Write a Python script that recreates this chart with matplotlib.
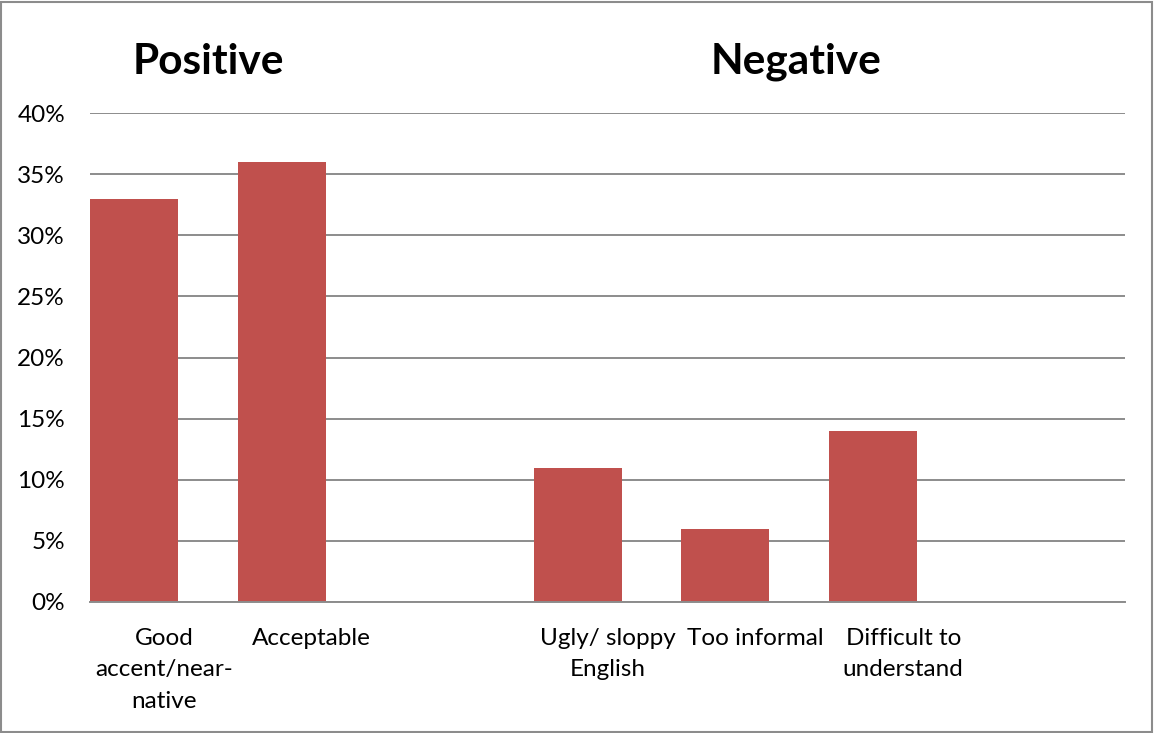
import matplotlib.pyplot as plt
from matplotlib.patches import Rectangle
from matplotlib.ticker import PercentFormatter

categories = ["Good\naccent/near-\nnative", "Acceptable", "",
              "Ugly/ sloppy\nEnglish", "Too informal", "Difficult to\nunderstand", ""]
values = [33, 36, None, 11, 6, 14, None]
y_ticks = [0, 5, 10, 15, 20, 25, 30, 35, 40]
group_titles = ["Positive", "Negative"]

plt.rcParams['font.family'] = ['Lato', 'DejaVu Sans']

W, H = 1154, 733
fig = plt.figure(figsize=(W / 100, H / 100), dpi=100)
ax = fig.add_axes([90 / W, (H - 602) / H, (1125 - 90) / W, (602 - 113) / H])

bar_w = 0.595
xs = list(range(len(categories)))
for x, v in zip(xs, values):
    if v is None:
        continue
    ax.bar(x - 0.5, v, width=bar_w, align='edge', color='#C0504D', zorder=3)

ax.set_xlim(-0.5, len(categories) - 0.5)
ax.set_ylim(0, 40)
ax.set_yticks(y_ticks)
ax.yaxis.set_major_formatter(PercentFormatter(decimals=0))
ax.set_xticks(xs)
ax.set_xticklabels(categories, fontsize=17.5, linespacing=1.62)
ax.tick_params(axis='both', length=0)
ax.tick_params(axis='y', labelsize=17.5, pad=18)
ax.tick_params(axis='x', pad=18.5)

ax.grid(axis='y', color='#8C8C8C', linewidth=1.4, zorder=0)
for s in ['left', 'right', 'top']:
    ax.spines[s].set_visible(False)
ax.spines['bottom'].set_color('#8C8C8C')
ax.spines['bottom'].set_linewidth(1.4)
ax.spines['bottom'].set_zorder(4)

fig.text(208 / W, 1 - 62 / H, group_titles[0], fontsize=30.5, fontweight='bold',
         ha='center', va='center')
fig.text(796 / W, 1 - 62 / H, group_titles[1], fontsize=30.5, fontweight='bold',
         ha='center', va='center')

fig.patches.append(Rectangle((1 / W, 1 / H), (W - 3) / W, (H - 3) / H,
                             transform=fig.transFigure, fill=False,
                             edgecolor='#8C8C8C', linewidth=1.5))

fig.savefig('out.png', dpi=100)
